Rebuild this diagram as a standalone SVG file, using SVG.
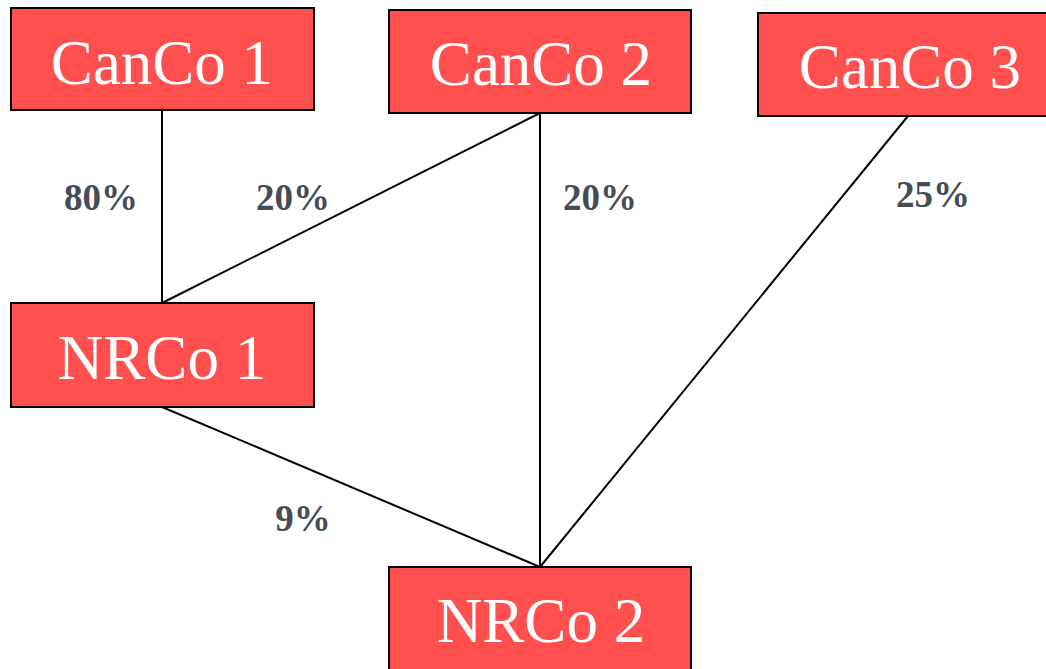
<svg xmlns="http://www.w3.org/2000/svg" width="1046" height="669" viewBox="0 0 1046 669">
<style>
.box{fill:#FF4F4F;stroke:#000;stroke-width:2}
.name{font-family:"Liberation Serif",serif;font-size:63px;fill:#fff;text-anchor:middle}
.pct{font-family:"Liberation Serif",serif;font-size:37px;font-weight:bold;fill:#454C55;text-anchor:middle}
.edge{stroke:#000;stroke-width:2;fill:none}
</style>
<rect width="1046" height="669" fill="#fff"/>
<g id="connectors">
<line class="edge" x1="162" y1="110" x2="162" y2="303"/>
<line class="edge" x1="540" y1="113" x2="162" y2="303"/>
<line class="edge" x1="540" y1="113" x2="540" y2="567"/>
<line class="edge" x1="908" y1="116" x2="540" y2="567"/>
<line class="edge" x1="162" y1="407" x2="540" y2="567"/>
<text class="pct" x="101" y="210">80%</text>
<text class="pct" x="293" y="210">20%</text>
<text class="pct" x="600" y="210">20%</text>
<text class="pct" x="933" y="207">25%</text>
<text class="pct" x="303" y="531">9%</text>
</g>
<g id="canco1"><rect class="box" x="11" y="8" width="303" height="102"/><text class="name" x="162" y="84">CanCo 1</text></g>
<g id="canco2"><rect class="box" x="389" y="10" width="302" height="103"/><text class="name" x="541" y="85">CanCo 2</text></g>
<g id="canco3"><rect class="box" x="758" y="13" width="304" height="103"/><text class="name" x="910" y="88">CanCo 3</text></g>
<g id="nrco1"><rect class="box" x="11" y="303" width="303" height="104"/><text class="name" x="162" y="379">NRCo 1</text></g>
<g id="nrco2"><rect class="box" x="389" y="567" width="302" height="104"/><text class="name" x="541" y="642">NRCo 2</text></g>
</svg>
